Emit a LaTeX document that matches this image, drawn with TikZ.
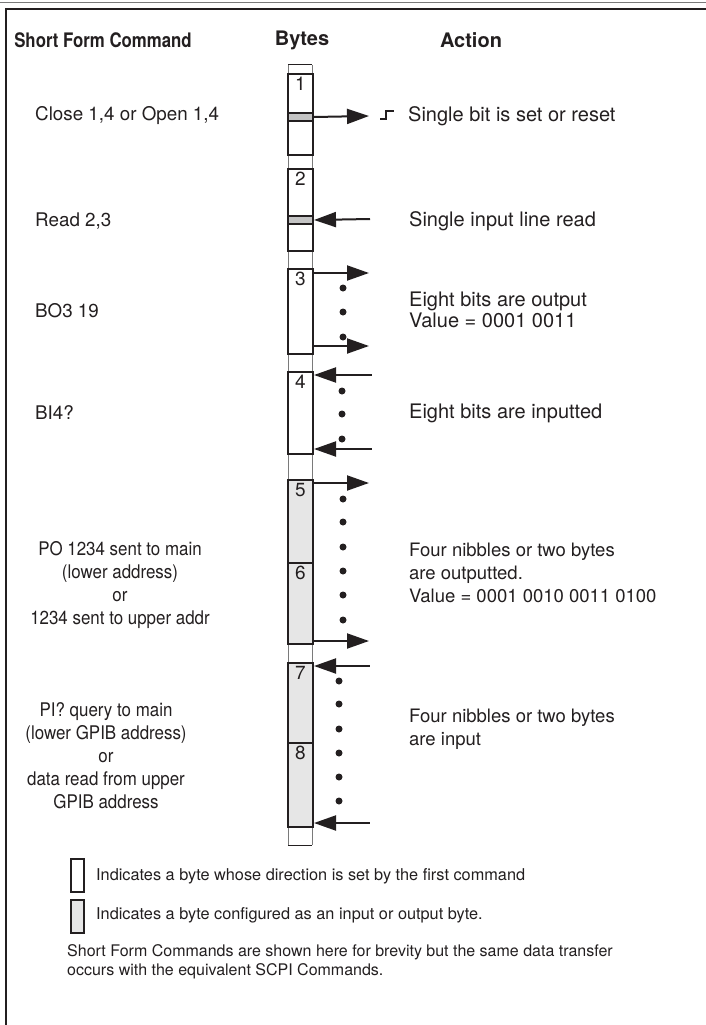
\documentclass[tikz,border=0pt]{standalone}
\usepackage{fontspec}
\setmainfont{TeX Gyre Heros}
\newfontfamily\narrowfont[FakeStretch=0.9]{TeX Gyre Heros}
\newfontfamily\headnarrow[FakeStretch=0.84]{TeX Gyre Heros}
\usepackage{tikz}
\usetikzlibrary{arrows.meta,positioning}
\definecolor{ink}{HTML}{231F20}
\definecolor{bytefill}{HTML}{E6E6E6}
\definecolor{barfill}{HTML}{C4C4C4}
\definecolor{railgray}{HTML}{7A7A7A}

\tikzset{
  bytebox/.style={draw=ink, line width=2pt, minimum width=25pt, inner sep=0pt, anchor=north west},
  barbox/.style={bytebox, fill=barfill, minimum height=8pt},
  bytenum/.style={text=ink, font=\fontsize{19}{20}\selectfont, inner sep=0pt, below=4pt},
  outarrow/.style={draw=ink, line width=2pt, -{Triangle[length=22pt,width=15pt]}},
  inarrow/.style={draw=ink, line width=2pt, {Triangle[length=22pt,width=15pt]}-},
  headtxt/.style={text=ink, font=\fontsize{20}{22}\selectfont\bfseries, inner sep=0pt},
  cmdtxt/.style={text=ink, font=\fontsize{18.8}{23}\selectfont, inner sep=0pt, anchor=west},
  cmdblock/.style={text=ink, font=\narrowfont\fontsize{18.8}{23}\selectfont, inner sep=0pt, align=center},
  acttxt/.style={text=ink, font=\fontsize{18.5}{23}\selectfont, inner sep=0pt, anchor=west, align=left},
  bigact/.style={acttxt, font=\fontsize{20}{21}\selectfont},
  notetxt/.style={text=ink, font=\fontsize{16.3}{19}\selectfont, inner sep=0pt, anchor=west, align=left},
  dotmark/.style={fill=ink}
}

\begin{document}
\begin{tikzpicture}[x=1pt, y=-1pt]
  \useasboundingbox (0,0) rectangle (706,1025);

  % page frame
  \draw[railgray, line width=1pt] (0,3) -- (706,3);
  \draw[ink, line width=2.5pt] (6,1025) -- (6,9) -- (706,9);

  % headings
  \node[headtxt, font=\headnarrow\fontsize{20}{22}\selectfont\bfseries] (hcmd) at (103,40) {Short Form Command};
  \node[headtxt] (hbytes) at (302,40) {Bytes};
  \node[headtxt] (hact) at (471,40) {Action};

  % byte column rails
  \draw[railgray, line width=1pt] (288,65) -- (288,845);
  \draw[railgray, line width=1pt] (312,65) -- (312,845);
  \draw[ink, line width=1pt] (288,65) -- (312,65);
  \draw[ink, line width=1pt] (288,845) -- (312,845);

  % Byte 1: Close / Open
  \node[bytebox, minimum height=81pt] (b1) at (287,73) {};
  \node[bytenum] at (b1.north) {1};
  \node[barbox] (bar1) at (287,112) {};
  \coordinate (o1) at (369,116);
  \draw[outarrow] (bar1.east) -- (o1);
  \draw[ink, line width=1.6pt] (380,119) -- (386,119) -- (386,111) -- (394,111);
  \node[cmdtxt] (c1) at (35,116) {Close 1,4 or Open 1,4};
  \node[bigact] (a1) at (408,116) {Single bit is set or reset};

  % Byte 2: Read
  \node[bytebox, minimum height=82pt] (b2) at (287,168) {};
  \node[bytenum] at (b2.north) {2};
  \node[barbox] (bar2) at (287,215) {};
  \coordinate (i2) at (370,219);
  \draw[inarrow] (bar2.east) -- (i2);
  \node[cmdtxt] (c2) at (35,221) {Read 2,3};
  \node[bigact] (a2) at (409,221) {Single input line read};

  % Byte 3: BO
  \node[bytebox, minimum height=85pt] (b3) at (287,268) {};
  \node[bytenum] at (b3.north) {3};
  \coordinate (o3a) at (369,273);
  \coordinate (o3b) at (369,346);
  \draw[outarrow] (b3.east |- o3a) -- (o3a);
  \draw[outarrow] (b3.east |- o3b) -- (o3b);
  \foreach \y in {288,312,337} \fill[dotmark] (343,\y) circle (3.5pt);
  \node[cmdtxt] (c3) at (35,311) {BO3 19};
  \node[bigact] (a3) at (409,310) {Eight bits are output\\Value = 0001 0011};

  % Byte 4: BI
  \node[bytebox, minimum height=82pt] (b4) at (287,371) {};
  \node[bytenum] at (b4.north) {4};
  \coordinate (i4a) at (372,375);
  \coordinate (i4b) at (372,449);
  \draw[inarrow] (b4.east |- i4a) -- (i4a);
  \draw[inarrow] (b4.east |- i4b) -- (i4b);
  \foreach \y in {391,414,439} \fill[dotmark] (342,\y) circle (3.5pt);
  \node[cmdtxt] (c4) at (35,413) {BI4?};
  \node[bigact] (a4) at (409,413) {Eight bits are inputted};

  % Bytes 5 and 6: PO
  \node[bytebox, fill=bytefill, minimum height=83pt] (b5) at (287,479) {};
  \node[bytebox, fill=bytefill, minimum height=81pt] (b6) at (287,562) {};
  \node[bytenum] at (b5.north) {5};
  \node[bytenum] at (b6.north) {6};
  \coordinate (o5) at (369,483);
  \coordinate (o6) at (369,641);
  \draw[outarrow] (b5.east |- o5) -- (o5);
  \draw[outarrow] (b6.east |- o6) -- (o6);
  \foreach \y in {499,522,547,571,595,620} \fill[dotmark] (343,\y) circle (3.5pt);
  \node[cmdblock] (c5) at (120,585) {PO 1234 sent to main\\(lower address)\\or\\1234 sent to upper addr};
  \node[acttxt] (a5) at (409,573) {Four nibbles or two bytes\\are outputted.\\Value = 0001 0010 0011 0100};

  % Bytes 7 and 8: PI
  \node[bytebox, fill=bytefill, minimum height=80pt] (b7) at (287,662) {};
  \node[bytebox, fill=bytefill, minimum height=84pt] (b8) at (287,742) {};
  \node[bytenum] at (b7.north) {7};
  \node[bytenum] at (b8.north) {8};
  \coordinate (i7) at (370,666);
  \coordinate (i8) at (370,823);
  \draw[inarrow] (b7.east |- i7) -- (i7);
  \draw[inarrow] (b8.east |- i8) -- (i8);
  \foreach \y in {681,704,729,753,777,801} \fill[dotmark] (339,\y) circle (3.5pt);
  \node[cmdblock] (c7) at (106,756) {PI? query to main\\(lower GPIB address)\\or\\data read from upper\\GPIB address};
  \node[acttxt] (a7) at (409,729) {Four nibbles or two bytes\\are input};

  % legend
  \node[bytebox, minimum width=13pt, minimum height=33pt] (lw) at (70,858) {};
  \node[bytebox, fill=bytefill, minimum width=13pt, minimum height=33pt] (lg) at (70,899) {};
  \node[notetxt] (lwt) at (96,876) {Indicates a byte whose direction is set by the first command};
  \node[notetxt] (lgt) at (96,915) {Indicates a byte configured as an input or output byte.};
  \node[notetxt, font=\fontsize{16}{19}\selectfont] (note) at (67,962) {Short Form Commands are shown here for brevity but the same data transfer\\occurs with the equivalent SCPI Commands.};
\end{tikzpicture}
\end{document}
